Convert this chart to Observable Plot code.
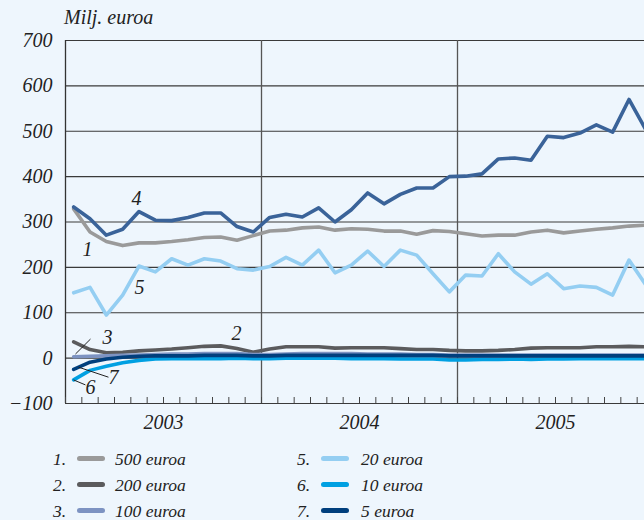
<!DOCTYPE html>
<html>
<head>
<meta charset="utf-8">
<script src="https://cdn.jsdelivr.net/npm/d3@7"></script>
<script src="https://cdn.jsdelivr.net/npm/@observablehq/plot@0.6"></script>
<style>
  html, body { margin: 0; padding: 0; background: #eef6fd; overflow: hidden; width: 644px; height: 520px; }
  #wrap { position: relative; width: 644px; height: 520px; overflow: hidden; font-family: "Liberation Serif", serif; font-style: italic; color: #222; }
  #title { position: absolute; left: 64px; top: 6px; font-size: 20px; }
  #chart { position: absolute; left: 0; top: 0; width: 653px; }
  #chart svg { max-width: none !important; }
  .leg { position: absolute; height: 26px; line-height: 26px; font-size: 17.5px; white-space: nowrap; }
  .leg .num { position: absolute; left: 0; }
  .leg .sw { position: absolute; top: 10px; width: 28px; height: 5px; border-radius: 3px; }
  .leg .lab { position: absolute; }
</style>
</head>
<body>
<div id="wrap">
  <div id="chart"></div>
  <div id="title">Milj. euroa</div>
</div>
<script>
// ---- data (monthly, Jan 2003 – Dec 2005) ----
const years = ["2003", "2004", "2005"];
const seriesNames = ["500 euroa", "200 euroa", "100 euroa", "50 euroa", "20 euroa", "10 euroa", "5 euroa"];
const seriesColors = ["#9a9a9a", "#5b5b5d", "#7d93c2", "#3a6399", "#94cef2", "#00a0e2", "#003f7d"];
const s500 = [329,278,257,248,254,254,257,261,266,267,260,270,280,282,287,289,282,285,284,280,280,273,281,279,274,269,271,271,278,282,276,280,284,287,291,293];
const s200 = [36,19,12,13,16,18,20,23,26,27,21,13,20,25,25,25,22,23,23,23,21,19,19,17,16,16,17,19,22,23,23,23,25,25,26,25];
const s100 = [3,4,5,6,7,8,9,9,10,10,10,8,8,9,10,10,10,10,9,9,9,8,8,7,7,7,7,7,7,7,7,7,7,7,7,7];
const s50  = [333,307,271,284,323,304,303,310,320,320,290,278,310,317,311,331,300,327,364,340,361,375,375,400,401,406,439,441,436,489,486,496,514,498,570,505];
const s20  = [144,156,95,139,203,190,219,205,219,214,197,194,202,222,205,238,188,205,236,202,238,227,186,146,183,181,230,190,163,186,153,159,156,139,216,163];
const s10  = [-48,-27,-18,-10,-5,-2,-1,-1,-1,-1,0,-1,-1,0,0,0,0,-1,-1,-1,-2,-2,-2,-4,-4,-3,-3,-2,-3,-2,-2,-1,-1,-1,-1,-1];
const s5   = [-25,-9,-2,2,4,5,5,5,6,6,6,5,5,6,6,6,6,6,6,6,6,6,6,5,5,5,5,5,5,5,5,5,5,5,5,5];
const yTicks = [-100, 0, 100, 200, 300, 400, 500, 600, 700];
// series number labels (month index, value)
const labelNums = ["1", "4", "5", "2", "3", "7", "6"];
const labelX = [1.35, 4.35, 4.53, 10.47, 2.57, 2.94, 1.53];
const labelY = [240, 352, 156, 53, 46, -44, -66];
// leader lines for labels 3, 7, 6
const leadX1 = [0.61, 0.8, 0.49], leadY1 = [9, -20, -48];
const leadX2 = [1.53, 2.63, 1.22], leadY2 = [42, -42, -59];

const allSeries = [s500, s200, s100, s50, s20, s10, s5];
const rows = [];
allSeries.forEach((arr, k) => arr.forEach((v, i) => rows.push({k, m: i + 0.5, v})));
const nMonths = years.length * 12;
const monthTicks = d3.range(0, nMonths + 1);
const yearBounds = d3.range(12, nMonths, 12);

const lineMarks = allSeries.map((arr, k) =>
  Plot.line(rows.filter(r => r.k === k), {x: "m", y: "v", stroke: seriesColors[k], strokeWidth: 3.6, curve: "linear"})
);
const chart = Plot.plot({
  width: 653, height: 440,
  marginLeft: 65, marginRight: 0, marginTop: 40, marginBottom: 37,
  style: {background: "transparent", fontFamily: "Liberation Serif, serif", fontStyle: "italic", fontSize: "20px", color: "#222", overflow: "visible", maxWidth: "none"},
  x: {type: "linear", domain: [0, nMonths], axis: null},
  y: {domain: [-100, 700], axis: null},
  marks: [
    Plot.ruleY(yTicks, {stroke: "#3a3a3a", strokeWidth: 1.1}),
    Plot.ruleX(yearBounds, {stroke: "#555", strokeWidth: 1.3}),
    Plot.ruleX([0], {stroke: "#333", strokeWidth: 1.3}),
    Plot.axisX(monthTicks, {anchor: "bottom", tickSize: -6, tickFormat: () => "", label: null, stroke: "#444", strokeWidth: 1}),
    Plot.text(yTicks, {x: 0, y: d => d, dx: -13, textAnchor: "end", text: d => d < 0 ? "\u2212" + Math.abs(d) : String(d), fontSize: 20}),
    Plot.text(years, {x: (d, i) => 6 + 12 * i, y: -100, dy: 19, text: d => d, fontSize: 20}),
    ...lineMarks,
    Plot.link(leadX1.map((d, i) => i), {x1: i => leadX1[i], y1: i => leadY1[i], x2: i => leadX2[i], y2: i => leadY2[i], stroke: "#222", strokeWidth: 1}),
    Plot.text(labelNums, {x: (d, i) => labelX[i], y: (d, i) => labelY[i], text: d => d, fontSize: 20})
  ]
});
document.getElementById("chart").appendChild(chart);

// ---- legend ----
const legendOrder = [[0, 1, 2, 3], [4, 5, 6]];
const colX = [[53, 77, 115], [297, 321, 361]];
const wrap = document.getElementById("wrap");
legendOrder.forEach((col, c) => col.forEach((k, r) => {
  const d = document.createElement("div");
  d.className = "leg";
  d.style.left = colX[c][0] + "px";
  d.style.top = (446 + r * 26) + "px";
  d.innerHTML = `<span class="num">${k + 1}.</span><span class="sw" style="left:${colX[c][1] - colX[c][0]}px;background:${seriesColors[k]}"></span><span class="lab" style="left:${colX[c][2] - colX[c][0]}px">${seriesNames[k]}</span>`;
  wrap.appendChild(d);
}));
</script>
</body>
</html>
